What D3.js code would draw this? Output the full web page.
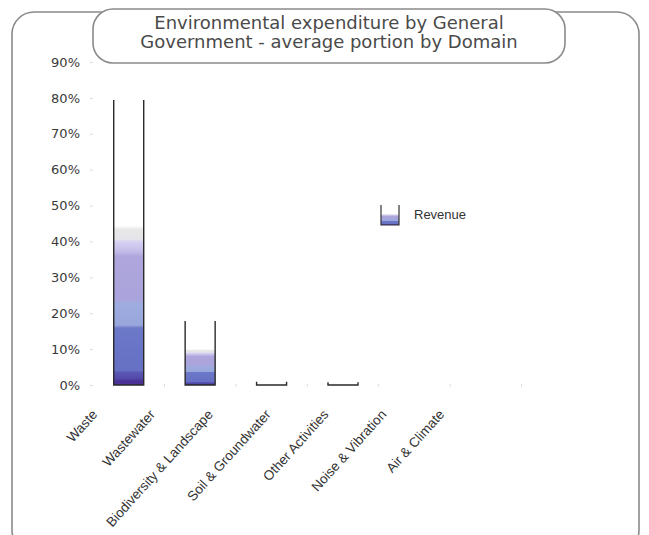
<!DOCTYPE html>
<html>
<head>
<meta charset="utf-8">
<script src="https://cdn.jsdelivr.net/npm/d3@7"></script>
<style>
  body { margin: 0; background: #fff; }
  svg { display: block; font-family: "Liberation Sans", Arial, sans-serif; }
</style>
</head>
<body>
<svg width="649" height="535"></svg>
<script>
// data
const domains = ["Waste", "Wastewater", "Biodiversity & Landscape", "Soil & Groundwater",
                 "Other Activities", "Noise & Vibration", "Air & Climate"];
const revenue = [0.794, 0.178, 0.009, 0.008, 0, 0, 0];
const yTicks = [0, 0.1, 0.2, 0.3, 0.4, 0.5, 0.6, 0.7, 0.8, 0.9];
const titleLines = ["Environmental expenditure by General", "Government - average portion by Domain"];
const seriesName = "Revenue";

const svg = d3.select("svg");
const margin = {top: 62, left: 93, right: 56, bottom: 150};

// stepped gradient used for the "glass" bars
const defs = svg.append("defs");
const grad = defs.append("linearGradient")
    .attr("id", "fillGrad")
    .attr("x1", 0).attr("y1", 0).attr("x2", 0).attr("y2", 1);
[
  [0, "#ffffff"], [0.44, "#ffffff"], [0.455, "#e8e8e8"], [0.49, "#e4e4ea"],
  [0.495, "#d8d4f4"], [0.53, "#c4bce8"], [0.55, "#aea6dc"], [0.70, "#aaa4dc"],
  [0.715, "#9eacdf"], [0.79, "#98a6dc"], [0.80, "#6c78c8"], [0.95, "#6670c4"],
  [0.955, "#5a58b4"], [0.978, "#5248a8"], [0.985, "#4a3296"], [1, "#4a3296"]
].forEach(function(s) {
  grad.append("stop").attr("offset", s[0]).attr("stop-color", s[1]);
});

// outer frame
svg.append("rect")
    .attr("x", 12).attr("y", 12)
    .attr("width", 627).attr("height", 540)
    .attr("rx", 22).attr("ry", 22)
    .attr("fill", "none")
    .attr("stroke", "#8a8a8a")
    .attr("stroke-width", 1.6);

// title box
svg.append("rect")
    .attr("x", 93).attr("y", 9)
    .attr("width", 472).attr("height", 54)
    .attr("rx", 20).attr("ry", 20)
    .attr("fill", "#fff")
    .attr("stroke", "#8a8a8a")
    .attr("stroke-width", 1.6);

svg.append("text")
    .attr("x", 329).attr("y", 29)
    .attr("text-anchor", "middle")
    .attr("fill", "#4a4a4a")
    .attr("font-family", "DejaVu Sans, sans-serif")
    .attr("font-size", "18px")
    .selectAll("tspan")
    .data(titleLines)
    .enter().append("tspan")
      .attr("x", 329)
      .attr("dy", function(d, i) { return i ? 19 : 0; })
      .text(function(d) { return d; });

const g = svg.append("g").attr("transform", "translate(" + margin.left + "," + margin.top + ")");

const x = d3.scaleBand().domain(domains).range([0, 500]).paddingInner(0.58).paddingOuter(0.29);
const y = d3.scaleLinear().domain([0, 0.9]).range([323, 0]);

// y axis labels
const yAxis = g.append("g")
    .call(d3.axisLeft(y).tickValues(yTicks).tickFormat(d3.format(".0%")).tickSize(3).tickPadding(10));
yAxis.select(".domain").remove();
yAxis.selectAll(".tick line").attr("stroke", "#ddd");
yAxis.selectAll(".tick text")
    .attr("fill", "#3a3a3a")
    .attr("font-size", "13px")
    .attr("font-family", "DejaVu Sans, sans-serif");

// faint separators along the baseline
g.append("g").selectAll("line")
    .data(domains.slice(1))
    .enter().append("line")
    .attr("x1", function(d) { return x(d) - x.step() * x.paddingInner() / 2; })
    .attr("x2", function(d) { return x(d) - x.step() * x.paddingInner() / 2; })
    .attr("y1", y(0) - 1).attr("y2", y(0) + 2)
    .attr("stroke", "#ddd");

// bars: gradient fill plus open-top outline
const bars = g.append("g").selectAll("g")
    .data(domains.map(function(d, i) { return {name: d, value: revenue[i]}; }).filter(function(d) { return d.value > 0; }))
    .enter().append("g");

bars.append("rect")
    .attr("x", function(d) { return x(d.name); })
    .attr("y", function(d) { return y(d.value); })
    .attr("width", x.bandwidth())
    .attr("height", function(d) { return y(0) - y(d.value); })
    .attr("fill", function(d) { return d.value > 0.05 ? "url(#fillGrad)" : "#fff"; });

bars.append("path")
    .attr("fill", "none")
    .attr("stroke", "#2a2a2a")
    .attr("stroke-width", 1.4)
    .attr("d", function(d) {
      const x0 = x(d.name), x1 = x0 + x.bandwidth();
      return "M" + x0 + "," + y(d.value) + "V" + y(0) + "H" + x1 + "V" + y(d.value);
    });

// category labels, rotated
const labelX = d3.scalePoint().domain(domains).range([5, 352]);
g.append("g").selectAll("text")
    .data(domains)
    .enter().append("text")
    .attr("transform", function(d) { return "translate(" + labelX(d) + "," + (y(0) + 30) + ") rotate(-48)"; })
    .attr("text-anchor", "end")
    .attr("fill", "#333")
    .attr("font-size", "13.5px")
    .text(function(d) { return d; });

// legend
const legend = svg.append("g").attr("transform", "translate(381,205)");
legend.append("rect")
    .attr("width", 18).attr("height", 20)
    .attr("fill", "url(#fillGrad)");
legend.append("path")
    .attr("fill", "none")
    .attr("stroke", "#333")
    .attr("stroke-width", 1.2)
    .attr("d", "M0,0V20H18V0");
legend.append("text")
    .attr("x", 33).attr("y", 14)
    .attr("fill", "#333")
    .attr("font-size", "13px")
    .text(seriesName);
</script>
</body>
</html>
